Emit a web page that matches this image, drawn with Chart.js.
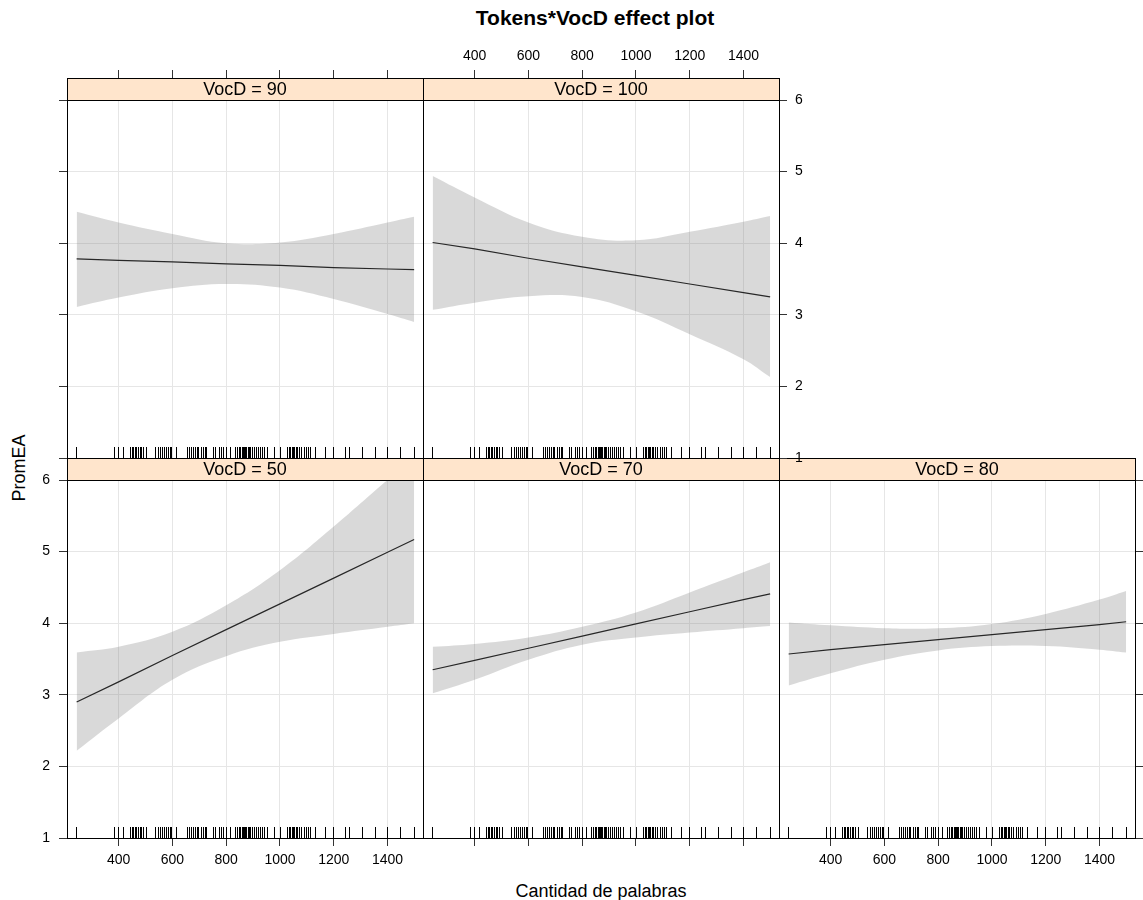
<!DOCTYPE html>
<html>
<head>
<meta charset="utf-8">
<title>Tokens*VocD effect plot</title>
<script src="https://cdn.jsdelivr.net/npm/chart.js@4.4.1/dist/chart.umd.min.js"></script>
<style>
  body { margin: 0; background: #fff; }
  #page { position: relative; width: 1143px; height: 900px; overflow: hidden; background: #fff;
          font-family: "Liberation Sans", Arial, Helvetica, sans-serif; color: #000; }
  #page canvas { position: absolute; }
  #title { position: absolute; left: 395px; width: 400px; top: 6px; text-align: center;
           font-size: 21px; font-weight: bold; line-height: 24px; white-space: nowrap; }
  #xtitle { position: absolute; left: 451px; width: 300px; top: 881px; text-align: center;
            font-size: 18px; line-height: 20px; white-space: nowrap; }
  #ytitle { position: absolute; left: 19px; top: 468px; font-size: 18px; line-height: 18px;
            white-space: nowrap; transform: translate(-50%, -50%) rotate(-90deg); }
</style>
</head>
<body>
<div id="page">
  <div id="title">Tokens*VocD effect plot</div>
  <div id="xtitle">Cantidad de palabras</div>
  <div id="ytitle">PromEA</div>
</div>
<script>
// Token counts at which the fitted effect and its confidence band are evaluated
const tokens = [244, 400, 600, 800, 1000, 1200, 1400, 1499];

// Axis ticks
const xTicks = [400, 600, 800, 1000, 1200, 1400];
const yTicks = [1, 2, 3, 4, 5, 6];

// Fitted PromEA and 95% band for each VocD level
const fit50   = [2.90, 3.18, 3.55, 3.91, 4.27, 4.63, 4.99, 5.17];
const upper50 = [3.59, 3.67, 3.88, 4.25, 4.74, 5.35, 6.00, 6.30];
const lower50 = [2.22, 2.67, 3.21, 3.54, 3.74, 3.85, 3.95, 4.00];

const fit70   = [3.35, 3.48, 3.65, 3.82, 3.99, 4.16, 4.33, 4.41];
const upper70 = [3.67, 3.71, 3.80, 3.95, 4.15, 4.43, 4.71, 4.85];
const lower70 = [3.02, 3.21, 3.49, 3.70, 3.80, 3.87, 3.93, 3.96];

const fit80   = [3.57, 3.63, 3.70, 3.77, 3.84, 3.91, 3.98, 4.02];
const upper80 = [4.01, 3.97, 3.93, 3.93, 3.99, 4.13, 4.33, 4.45];
const lower80 = [3.13, 3.30, 3.49, 3.62, 3.68, 3.68, 3.63, 3.59];

const fit90   = [3.78, 3.76, 3.74, 3.71, 3.69, 3.66, 3.64, 3.63];
const upper90 = [4.44, 4.29, 4.13, 4.00, 4.01, 4.13, 4.29, 4.37];
const lower90 = [3.11, 3.24, 3.37, 3.43, 3.38, 3.22, 3.01, 2.90];

const fit100   = [4.01, 3.92, 3.79, 3.67, 3.55, 3.43, 3.31, 3.25];
const upper100 = [4.94, 4.64, 4.29, 4.09, 4.04, 4.16, 4.30, 4.38];
const lower100 = [3.07, 3.17, 3.26, 3.25, 3.05, 2.73, 2.38, 2.13];

// Observed token counts, shown as a rug along the bottom of every panel
const rugTokens = [242, 381, 398, 416, 443, 450, 455, 460, 466, 472, 478, 485, 492, 500,
  536, 545, 553, 560, 567, 575, 582, 590, 596, 615, 654, 662, 670, 676, 684, 690, 697,
  705, 712, 720, 726, 751, 760, 772, 782, 790, 800, 813, 833, 840, 846, 852, 857, 862,
  866, 870, 875, 880, 885, 890, 896, 902, 910, 918, 926, 935, 942, 950, 977, 999, 1027,
  1033, 1038, 1043, 1048, 1053, 1058, 1065, 1072, 1080, 1088, 1096, 1104, 1111, 1131,
  1167, 1198, 1242, 1257, 1304, 1353, 1399, 1448, 1499];

// ---- layout ----
const X_MIN = 208, X_MAX = 1532, Y_MIN = 1, Y_MAX = 6;
const PANEL_W = 356, PANEL_H = 358, STRIP_H = 22, TICK_LEN = 8, RUG_LEN = 11;
const MARGIN = { l: 70, r: 70, t: 80, b: 60 };
const BAND = 'rgba(128,128,128,0.30)';
const GRID = '#e6e6e6';
const FONT = '"Liberation Sans", Arial, Helvetica, sans-serif';

Chart.defaults.font.family = FONT;
Chart.defaults.color = '#000';

const page = document.getElementById('page');

// strip with the conditioning label above each panel
const stripPlugin = {
  id: 'strip',
  afterDraw(chart, args, opts) {
    const { ctx, chartArea: { left, right, top } } = chart;
    const x0 = Math.round(left), x1 = Math.round(right), y0 = Math.round(top) - STRIP_H;
    ctx.save();
    ctx.fillStyle = '#ffe5cc';
    ctx.fillRect(x0, y0, x1 - x0, STRIP_H);
    ctx.strokeStyle = '#000';
    ctx.lineWidth = 1;
    ctx.strokeRect(x0 + 0.5, y0 + 0.5, x1 - x0, STRIP_H);
    ctx.fillStyle = '#000';
    ctx.font = '18px ' + FONT;
    ctx.textAlign = 'center';
    ctx.textBaseline = 'middle';
    ctx.fillText(opts.label, (x0 + x1) / 2, y0 + STRIP_H / 2 + 1);
    ctx.restore();
  }
};

// rug of observed token counts
const rugPlugin = {
  id: 'rug',
  afterDatasetsDraw(chart) {
    const { ctx, chartArea: { bottom } } = chart;
    const xs = chart.scales.x;
    ctx.save();
    ctx.strokeStyle = '#000';
    ctx.lineWidth = 1;
    ctx.beginPath();
    rugTokens.forEach(v => {
      const px = Math.round(xs.getPixelForValue(v)) + 0.5;
      ctx.moveTo(px, Math.round(bottom));
      ctx.lineTo(px, Math.round(bottom) - RUG_LEN);
    });
    ctx.stroke();
    ctx.restore();
  }
};

function pts(ys) { return tokens.map((t, i) => ({ x: t, y: ys[i] })); }
const plain = v => String(v);

function xScale(pos, showTicks, showLabels, onArea) {
  return {
    type: 'linear', position: pos, min: X_MIN, max: X_MAX,
    afterBuildTicks: s => { s.ticks = xTicks.map(v => ({ value: v })); },
    afterFit: s => { s.height = pos === 'top' ? MARGIN.t : MARGIN.b; },
    grid: { display: true, color: GRID, lineWidth: 1, drawOnChartArea: onArea,
            drawTicks: !!showTicks, tickLength: pos === 'top' ? STRIP_H + TICK_LEN : TICK_LEN,
            tickColor: '#333', tickWidth: 1 },
    border: { display: true, color: '#000', width: 1 },
    ticks: { display: !!showLabels, font: { size: 14 }, color: '#000', callback: plain,
             padding: pos === 'top' ? 5 : 6, maxRotation: 0, autoSkip: false }
  };
}

function yScale(pos, showTicks, showLabels, onArea) {
  return {
    type: 'linear', position: pos, min: Y_MIN, max: Y_MAX,
    afterBuildTicks: s => { s.ticks = yTicks.map(v => ({ value: v })); },
    afterFit: s => { s.width = pos === 'left' ? MARGIN.l : MARGIN.r; },
    grid: { display: true, color: GRID, lineWidth: 1, drawOnChartArea: onArea,
            drawTicks: !!showTicks, tickLength: TICK_LEN, tickColor: '#333', tickWidth: 1 },
    border: { display: true, color: '#000', width: 1 },
    ticks: { display: !!showLabels, font: { size: 14 }, color: '#000', callback: plain,
             padding: pos === 'left' ? 9 : 8 }
  };
}

function makePanel(p) {
  const w = PANEL_W + MARGIN.l + MARGIN.r;
  const h = PANEL_H + MARGIN.t + MARGIN.b;
  const cv = document.createElement('canvas');
  cv.width = w; cv.height = h;
  cv.style.width = w + 'px'; cv.style.height = h + 'px';
  cv.style.left = (p.left - MARGIN.l) + 'px';
  cv.style.top = (p.top - MARGIN.t) + 'px';
  page.appendChild(cv);

  new Chart(cv, {
    type: 'line',
    data: {
      datasets: [
        { data: pts(p.upper), xAxisID: 'x', yAxisID: 'y', fill: '+1', backgroundColor: BAND,
          borderWidth: 0, borderColor: 'rgba(0,0,0,0)', pointRadius: 0, tension: 0.4 },
        { data: pts(p.lower), xAxisID: 'x', yAxisID: 'y', fill: false,
          borderWidth: 0, borderColor: 'rgba(0,0,0,0)', pointRadius: 0, tension: 0.4 },
        { data: pts(p.fit), xAxisID: 'x', yAxisID: 'y', fill: false,
          borderColor: '#000', borderWidth: 1.2, pointRadius: 0, tension: 0 }
      ]
    },
    options: {
      responsive: false, animation: false, devicePixelRatio: 1, events: [],
      layout: { padding: 0 },
      plugins: { legend: { display: false }, tooltip: { enabled: false },
                 strip: { label: 'VocD = ' + p.vocd } },
      scales: {
        x:  xScale('bottom', p.bottomTicks, p.bottomLabels, true),
        x2: xScale('top', p.topTicks, p.topLabels, false),
        y:  yScale('left', p.leftTicks, p.leftLabels, true),
        y2: yScale('right', p.rightTicks, p.rightLabels, false)
      }
    },
    plugins: [rugPlugin, stripPlugin]
  });
}

const COL = [67, 423, 779];
const ROW_TOP = 100, ROW_BOTTOM = 480;

// bottom row
makePanel({ vocd: 50, left: COL[0], top: ROW_BOTTOM, fit: fit50, upper: upper50, lower: lower50,
  leftTicks: true, leftLabels: true, bottomTicks: true, bottomLabels: true });
makePanel({ vocd: 70, left: COL[1], top: ROW_BOTTOM, fit: fit70, upper: upper70, lower: lower70,
  bottomTicks: true });
makePanel({ vocd: 80, left: COL[2], top: ROW_BOTTOM, fit: fit80, upper: upper80, lower: lower80,
  bottomTicks: true, bottomLabels: true, rightTicks: true });
// top row
makePanel({ vocd: 90, left: COL[0], top: ROW_TOP, fit: fit90, upper: upper90, lower: lower90,
  leftTicks: true, topTicks: true });
makePanel({ vocd: 100, left: COL[1], top: ROW_TOP, fit: fit100, upper: upper100, lower: lower100,
  topTicks: true, topLabels: true, rightTicks: true, rightLabels: true });
</script>
</body>
</html>
